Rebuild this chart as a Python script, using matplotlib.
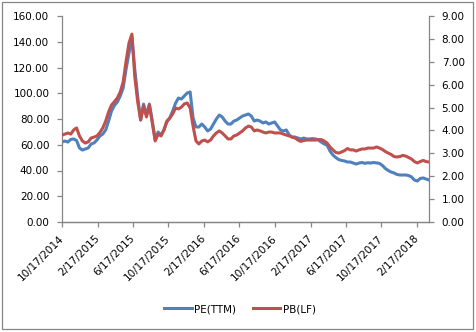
import matplotlib
import matplotlib.pyplot as plt
import matplotlib.dates as mdates
import pandas as pd
from matplotlib.patches import Rectangle

matplotlib.use("Agg")

# 估值序列（每10天一个点）
dates = pd.date_range("2014-10-17", periods=127, freq="10D")

pe_ttm = [
    62.1, 62.9, 62.1, 64.1, 64.5, 63.3, 57.5, 55.9, 56.7, 57.5,
    60.6, 61.4, 63.7, 66.8, 68.3, 71.5, 78.4, 86.2, 90.5, 93.2,
    97.9, 104.1, 118.8, 131.3, 143.7, 118.1, 97.1, 79.2, 91.6, 83.1,
    91.6, 78.4, 63.7, 69.9, 67.6, 71.5, 77.7, 80.8, 86.2, 92.4,
    96.3, 95.5, 97.9, 100.2, 101.0, 80.8, 73.8, 73.8, 76.1, 73.8,
    70.7, 72.2, 76.1, 80.0, 83.1, 81.6, 78.4, 76.1, 76.1, 78.4,
    79.2, 80.8, 82.3, 83.1, 83.9, 82.3, 78.4, 79.2, 78.4, 76.9,
    77.7, 76.1, 76.9, 77.7, 74.6, 71.5, 70.7, 71.5, 67.6, 66.0,
    66.0, 65.2, 64.5, 65.2, 64.5, 64.5, 64.8, 64.5, 63.7, 62.1,
    60.6, 59.8, 55.1, 52.0, 50.1, 48.5, 47.8, 47.4, 46.6, 46.6,
    45.8, 45.0, 45.8, 46.2, 45.6, 46.0, 45.8, 46.2, 45.9, 45.5,
    43.9, 41.6, 40.0, 38.8, 38.1, 36.9, 36.5, 36.5, 36.5, 36.1,
    35.0, 32.6, 31.8, 33.8, 34.2, 33.4, 32.6,
]

pb_lf = [
    3.80, 3.84, 3.89, 3.84, 4.02, 4.11, 3.76, 3.54, 3.45, 3.50,
    3.67, 3.71, 3.76, 3.91, 4.11, 4.41, 4.81, 5.11, 5.26, 5.42,
    5.68, 6.12, 7.03, 7.82, 8.21, 6.34, 5.24, 4.46, 5.07, 4.59,
    5.11, 4.33, 3.54, 3.84, 3.76, 4.02, 4.41, 4.54, 4.72, 4.98,
    4.94, 5.02, 5.16, 5.20, 4.98, 4.19, 3.54, 3.41, 3.54, 3.58,
    3.50, 3.58, 3.76, 3.89, 3.98, 3.89, 3.76, 3.63, 3.63, 3.76,
    3.80, 3.89, 3.98, 4.11, 4.19, 4.15, 3.98, 4.02, 3.98, 3.93,
    3.89, 3.93, 3.93, 3.89, 3.89, 3.89, 3.84, 3.80, 3.76, 3.71,
    3.67, 3.58, 3.52, 3.56, 3.58, 3.58, 3.58, 3.58, 3.60, 3.60,
    3.54, 3.45, 3.28, 3.15, 3.04, 3.01, 3.06, 3.12, 3.21, 3.15,
    3.15, 3.10, 3.15, 3.19, 3.19, 3.23, 3.23, 3.23, 3.28, 3.23,
    3.17, 3.08, 3.01, 2.95, 2.86, 2.84, 2.86, 2.91, 2.88, 2.82,
    2.75, 2.64, 2.58, 2.64, 2.69, 2.64, 2.62,
]

tick_dates = pd.to_datetime([
    "2014-10-17", "2015-02-17", "2015-06-17", "2015-10-17",
    "2016-02-17", "2016-06-17", "2016-10-17", "2017-02-17",
    "2017-06-17", "2017-10-17", "2018-02-17",
])
tick_labels = [
    "10/17/2014", "2/17/2015", "6/17/2015", "10/17/2015",
    "2/17/2016", "6/17/2016", "10/17/2016", "2/17/2017",
    "6/17/2017", "10/17/2017", "2/17/2018",
]

pe_ticks = [0, 20, 40, 60, 80, 100, 120, 140, 160]
pb_ticks = [0, 1, 2, 3, 4, 5, 6, 7, 8, 9]

BLUE = "#4F81BD"
RED = "#C0504D"
AXIS_GRAY = "#868686"
FS = 7.5

fig = plt.figure(figsize=(4.77, 3.32), dpi=100)
fig.patch.set_facecolor("white")

# 外框
fig.patches.append(Rectangle((2 / 477, 3 / 332), 471 / 477, 327 / 332,
                             transform=fig.transFigure, fill=False,
                             edgecolor=AXIS_GRAY, linewidth=0.9))

ax = fig.add_axes([62 / 477, 1 - 222 / 332, 367 / 477, 206 / 332])
ax2 = ax.twinx()

line_pe, = ax.plot(dates, pe_ttm, color=BLUE, linewidth=2.2, label="PE(TTM)")
line_pb, = ax2.plot(dates, pb_lf, color=RED, linewidth=2.2, label="PB(LF)")

ax.set_xlim(dates[0], dates[-1])
ax.set_ylim(0, 160)
ax2.set_ylim(0, 9)

ax.set_yticks(pe_ticks)
ax.set_yticklabels([f"{v:.2f}" for v in pe_ticks], fontsize=FS)
ax2.set_yticks(pb_ticks)
ax2.set_yticklabels([f"{v:.2f}" for v in pb_ticks], fontsize=FS)

ax.set_xticks(mdates.date2num(tick_dates))
ax.set_xticklabels(tick_labels, fontsize=FS, rotation=45, ha="right",
                   va="center", rotation_mode="anchor")

for a in (ax, ax2):
    for side in ("top",):
        a.spines[side].set_visible(False)
    for side in ("left", "right", "bottom"):
        a.spines[side].set_color(AXIS_GRAY)
        a.spines[side].set_linewidth(0.9)
    a.tick_params(direction="out", length=3.6, width=0.9, color=AXIS_GRAY,
                  labelcolor="black", pad=5.5)
ax.spines["right"].set_visible(False)
ax2.spines["left"].set_visible(False)
ax.tick_params(axis="x", pad=7)

fig.legend(handles=[line_pe, line_pb], loc="center",
           bbox_to_anchor=(240 / 477, 1 - 309 / 332), ncol=2, frameon=False,
           fontsize=FS, handlelength=2.6, handletextpad=0.25,
           columnspacing=1.6)

fig.savefig("out.png", dpi=100, facecolor="white")
plt.close(fig)
